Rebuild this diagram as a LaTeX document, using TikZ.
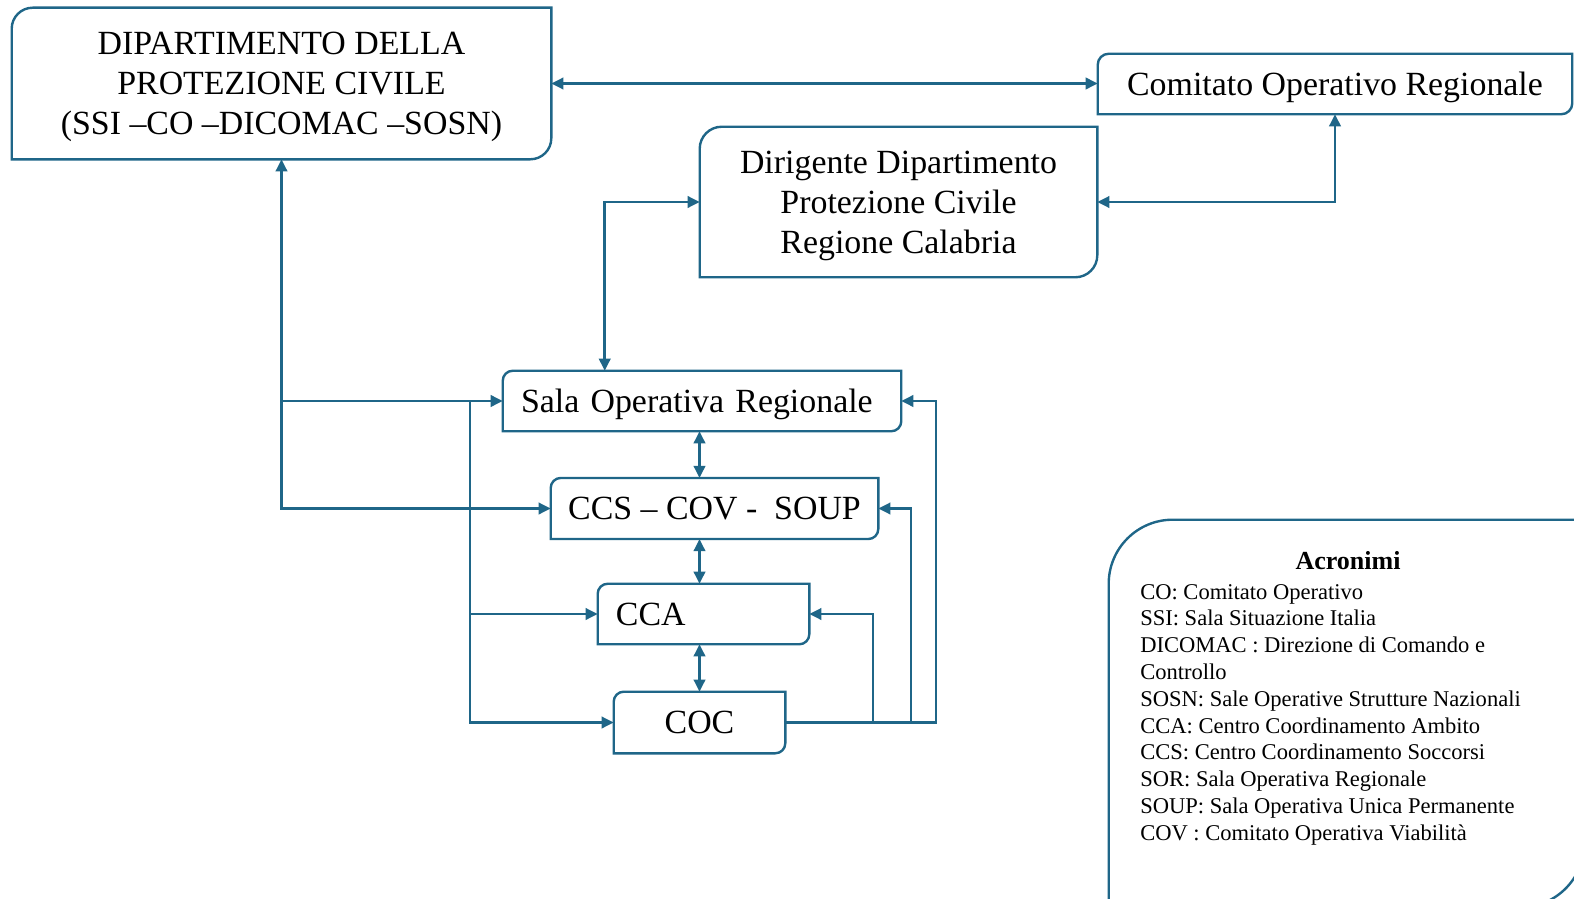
\documentclass[tikz,border=0pt]{standalone}
\usepackage{fontspec}
\setmainfont{Liberation Serif}
\usepackage{tikz}
\usetikzlibrary{arrows.meta,calc}
\definecolor{flowblue}{HTML}{1F6688}
\tikzset{
  >={Triangle[length=9pt,width=8.5pt]},
  every node/.style={text=black},
  unit/.style={inner sep=0pt,text depth=0pt,align=center,font=\fontsize{25.4}{30}\selectfont},
  leftunit/.style={unit,inner xsep=13.5pt,align=left},
  frame/.style={draw=flowblue,line width=1.8pt},
  link/.style={->,draw=flowblue,line width=1.9pt},
  twoway/.style={<->,draw=flowblue,line width=1.9pt},
  acrtitle/.style={font=\fontsize{19.5}{23}\selectfont\bfseries,inner sep=0pt},
  acrlist/.style={font=\fontsize{16.9}{20.1}\selectfont,align=left,inner sep=0pt}
}
% border with rounded top-left and bottom-right corners
\newcommand{\cornerframe}[2]{%
  \draw[frame] ($(#1.north west)+(#2,0)$) -- (#1.north east) -- ($(#1.south east)+(0,#2)$)
    arc[start angle=0,end angle=-90,radius=#2] -- (#1.south west) -- ($(#1.north west)-(0,#2)$)
    arc[start angle=180,end angle=90,radius=#2] -- cycle;}

\begin{document}
\begin{tikzpicture}[x=0.75pt,y=0.75pt]
  \useasboundingbox (0,0) rectangle (1574,-899);
  \clip (0,0) rectangle (1574,-899);

  \node[unit,minimum width=404.3pt,minimum height=113.3pt] (dip) at (281.5,-83.5) {DIPARTIMENTO DELLA\\PROTEZIONE CIVILE\\(SSI –CO –DICOMAC –SOSN)};
  \node[unit,minimum width=355.5pt,minimum height=45pt] (cor) at (1335,-84) {Comitato Operativo Regionale};
  \node[unit,minimum width=297.8pt,minimum height=112.5pt] (dir) at (898.5,-202) {Dirigente Dipartimento\\Protezione Civile\\Regione Calabria};
  \node[leftunit,text width=271.5pt,minimum height=45pt] (sor) at (702,-401) {\mbox{Sala Operativa Regionale}};
  \node[unit,minimum width=245.3pt,minimum height=45.4pt] (ccs) at (714.5,-508.5) {CCS – COV -\ \ SOUP};
  \node[leftunit,text width=131.3pt,minimum height=45pt] (cca) at (703.5,-614) {CCA};
  \node[unit,minimum width=128.3pt,minimum height=45.8pt] (coc) at (699.5,-722.5) {COC};
  \node[minimum width=356.3pt,minimum height=290.3pt,inner sep=0pt] (acr) at (1346.5,-713.5) {};

  \cornerframe{dip}{21}
  \cornerframe{cor}{11}
  \cornerframe{dir}{22}
  \cornerframe{sor}{10}
  \cornerframe{ccs}{10}
  \cornerframe{cca}{10}
  \cornerframe{coc}{10}
  \cornerframe{acr}{64}

  \node[acrtitle] (acrhead) at (1348,-561) {Acronimi};
  \node[acrlist,anchor=north west] (acrtext) at (1140,-584) {CO: Comitato Operativo\\
    SSI: Sala Situazione Italia\\
    DICOMAC : Direzione di Comando e\\
    Controllo\\
    SOSN: Sale Operative Strutture Nazionali\\
    CCA: Centro Coordinamento Ambito\\
    CCS: Centro Coordinamento Soccorsi\\
    SOR: Sala Operativa Regionale\\
    SOUP: Sala Operativa Unica Permanente\\
    COV : Comitato Operativa Viabilità};

  \coordinate (lbus) at (470,-401);
  \coordinate (rbus1) at (873,-722.5);
  \coordinate (rbus2) at (911,-722.5);
  \coordinate (rbus3) at (936,-722.5);

  \draw[twoway] (dip.east) -- (dip.east -| cor.west);
  \draw[twoway] (cor.south) |- (dir.east);
  \draw[twoway] (dir.west) -| ($(sor.north west)+(102,0)$);
  \draw[twoway] (dip.south) |- (ccs.west);
  \draw[link] (dip.south |- sor.west) -- (sor.west);
  \draw[link] (lbus) |- (coc.west);
  \draw[link] (lbus |- cca.west) -- (cca.west);
  \draw[twoway] (sor.south -| coc.north) -- (ccs.north -| coc.north);
  \draw[twoway] (ccs.south -| coc.north) -- (cca.north -| coc.north);
  \draw[twoway] (cca.south -| coc.north) -- (coc.north);
  \draw[link] (coc.east) -- (rbus3) |- (sor.east);
  \draw[link] (rbus2) |- (ccs.east);
  \draw[link] (rbus1) |- (cca.east);
\end{tikzpicture}
\end{document}
